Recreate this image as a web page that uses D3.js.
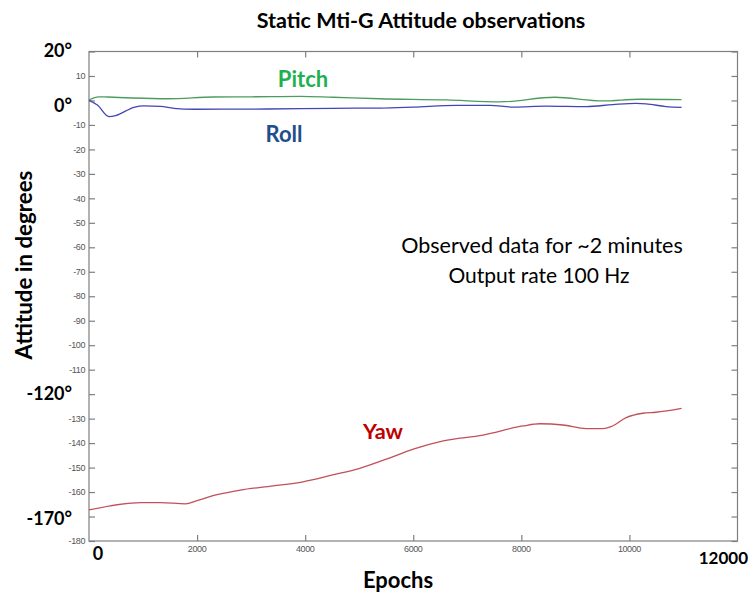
<!DOCTYPE html>
<html>
<head>
<meta charset="utf-8">
<script src="https://cdn.jsdelivr.net/npm/d3@7"></script>
<style>
  html, body { margin: 0; padding: 0; background: #fff; }
  svg { display: block; }
</style>
</head>
<body>
<svg id="chart" width="752" height="596"></svg>
<script>
// ---- Data ----
const xDomain = [0, 12000];
const yDomain = [-180, 20];
const xTickValues = [2000, 4000, 6000, 8000, 10000];
const yTickValues = d3.range(-180, 21, 10);
const yHiddenLabels = [20, 0, -120, -170];
const bigYLabels = [
  { v: 20, text: "20°" },
  { v: 0, text: "0°" },
  { v: -120, text: "-120°" },
  { v: -170, text: "-170°" }
];

const pitchEpochs = [0, 180, 340, 800, 1447, 2303, 3000, 3908, 4520, 5385, 6616, 7600, 8615, 9507, 10185, 10965];
const pitchValues = [0.2, 1.5, 1.4, 1.0, 0.7, 1.4, 1.5, 1.7, 1.3, 0.7, 0.2, -0.6, 1.3, -0.2, 0.5, 0.3];

const rollEpochs = [0, 155, 370, 493, 830, 1015, 1324, 1570, 1940, 3290, 4520, 5385, 5998, 6800, 7416, 7846, 8462, 9200, 9692, 10123, 10308, 10677, 10965];
const rollValues = [0, -1.9, -6.6, -6.2, -2.8, -2.2, -2.4, -3.2, -3.6, -3.5, -3.2, -3.1, -2.7, -2.0, -2.0, -2.7, -2.3, -2.5, -1.7, -1.2, -1.4, -2.5, -2.8];

const yawEpochs = [0, 960, 1320, 1785, 2000, 2370, 2800, 3410, 3960, 4510, 5010, 5570, 6000, 6555, 7290, 8030, 8340, 8770, 9200, 9510, 9660, 9940, 10250, 10490, 10965];
const yawValues = [-167.3, -164.3, -164.3, -164.8, -163.5, -161.1, -159.2, -157.5, -155.8, -153.0, -150.3, -146.0, -142.5, -139.1, -136.7, -133.0, -132.1, -132.6, -134.1, -134.1, -133.3, -129.6, -127.8, -127.4, -125.8];

// ---- Layout ----
const svg = d3.select("#chart");
const L = 89, T = 51.5, R = 737.5, B = 541;
const x = d3.scaleLinear().domain(xDomain).range([L, R]);
const y = d3.scaleLinear().domain(yDomain).range([B, T]);
const bold = "Lato, 'Open Sans', sans-serif";
const axisGray = "#7f7f7f";

// Frame
svg.append("rect")
  .attr("x", L).attr("y", T).attr("width", R - L).attr("height", B - T)
  .attr("fill", "none").attr("stroke", axisGray).attr("stroke-width", 1.2);

// Axes (inward ticks, MATLAB style)
const fmtY = d => yHiddenLabels.includes(d) ? "" : d;
const leftAxis = d3.axisRight(y).tickValues(yTickValues).tickSize(6).tickFormat("");
const rightAxis = d3.axisLeft(y).tickValues(yTickValues).tickSize(6).tickFormat("");
const bottomAxis = d3.axisTop(x).tickValues(xTickValues).tickSize(6).tickFormat("");
const topAxis = d3.axisBottom(x).tickValues(xTickValues).tickSize(6).tickFormat("");

function styleAxis(g) {
  g.select(".domain").remove();
  g.selectAll(".tick line").attr("stroke", axisGray).attr("stroke-width", 1.2);
}
svg.append("g").attr("transform", `translate(${L},0)`).call(leftAxis).call(styleAxis);
svg.append("g").attr("transform", `translate(${R},0)`).call(rightAxis).call(styleAxis);
svg.append("g").attr("transform", `translate(0,${B})`).call(bottomAxis).call(styleAxis);
svg.append("g").attr("transform", `translate(0,${T})`).call(topAxis).call(styleAxis);

// Small tick labels
svg.append("g").selectAll("text")
  .data(yTickValues.filter(d => !yHiddenLabels.includes(d)))
  .join("text")
  .attr("x", L - 4).attr("y", d => y(d)).attr("dy", "0.35em")
  .attr("text-anchor", "end")
  .attr("font-family", "'Liberation Sans', Arial, sans-serif")
  .attr("font-size", 9).attr("fill", "#555")
  .attr("letter-spacing", -0.4)
  .text(fmtY);

svg.append("g").selectAll("text")
  .data(xTickValues)
  .join("text")
  .attr("x", d => x(d)).attr("y", B + 11)
  .attr("text-anchor", "middle")
  .attr("font-family", "'Liberation Sans', Arial, sans-serif")
  .attr("font-size", 9).attr("fill", "#555")
  .attr("letter-spacing", -0.4)
  .text(d => d);

// Big axis annotations
svg.append("g").selectAll("text")
  .data(bigYLabels)
  .join("text")
  .attr("x", 72).attr("y", d => y(d.v) + (d.v === 20 ? 5 : d.v === 0 ? 12 : d.v === -120 ? 6 : 8))
  .attr("text-anchor", "end")
  .attr("font-family", bold).attr("font-weight", 700).attr("font-size", 18)
  .attr("fill", "#000")
  .text(d => d.text);

svg.append("text").attr("x", x(0) + 9).attr("y", 560)
  .attr("text-anchor", "middle")
  .attr("font-family", bold).attr("font-weight", 700).attr("font-size", 18)
  .text("0");
svg.append("text").attr("x", 748).attr("y", 564)
  .attr("text-anchor", "end")
  .attr("font-family", bold).attr("font-weight", 700).attr("font-size", 17)
  .text("12000");

// Titles
svg.append("text").attr("x", 421).attr("y", 28)
  .attr("text-anchor", "middle")
  .attr("font-family", bold).attr("font-weight", 700).attr("font-size", 21.5)
  .text("Static Mti-G Attitude observations");
svg.append("text").attr("x", 398).attr("y", 588)
  .attr("text-anchor", "middle")
  .attr("font-family", bold).attr("font-weight", 700).attr("font-size", 22)
  .text("Epochs");
svg.append("text")
  .attr("transform", "translate(32,265) rotate(-90)")
  .attr("text-anchor", "middle")
  .attr("font-family", bold).attr("font-weight", 700).attr("font-size", 22.3)
  .text("Attitude in degrees");

// Lines
const line = (ex, vals) => d3.line()
  .x((d, i) => x(ex[i])).y(d => y(d))
  .curve(d3.curveMonotoneX)(vals);

svg.append("path").attr("d", line(yawEpochs, yawValues))
  .attr("fill", "none").attr("stroke", "#c0505a").attr("stroke-width", 1.3);
svg.append("path").attr("d", line(pitchEpochs, pitchValues))
  .attr("fill", "none").attr("stroke", "#4c9c5e").attr("stroke-width", 1.3);
svg.append("path").attr("d", line(rollEpochs, rollValues))
  .attr("fill", "none").attr("stroke", "#4545b5").attr("stroke-width", 1.3);

// Series labels
svg.append("text").attr("x", 303).attr("y", 87).attr("text-anchor", "middle")
  .attr("font-family", bold).attr("font-weight", 700).attr("font-size", 22)
  .attr("fill", "#1fb04f").text("Pitch");
svg.append("text").attr("x", 284).attr("y", 142).attr("text-anchor", "middle")
  .attr("font-family", bold).attr("font-weight", 700).attr("font-size", 22)
  .attr("fill", "#1f4e8c").text("Roll");
svg.append("text").attr("x", 383).attr("y", 439).attr("text-anchor", "middle")
  .attr("font-family", bold).attr("font-weight", 700).attr("font-size", 21.7)
  .attr("fill", "#c00000").text("Yaw");

// Note
svg.append("text").attr("x", 542).attr("y", 253).attr("text-anchor", "middle")
  .attr("font-family", bold).attr("font-weight", 400).attr("font-size", 21.5)
  .attr("fill", "#000").text("Observed data for ~2 minutes");
svg.append("text").attr("x", 539).attr("y", 283).attr("text-anchor", "middle")
  .attr("font-family", bold).attr("font-weight", 400).attr("font-size", 21)
  .attr("fill", "#000").text("Output rate 100 Hz");
</script>
</body>
</html>
